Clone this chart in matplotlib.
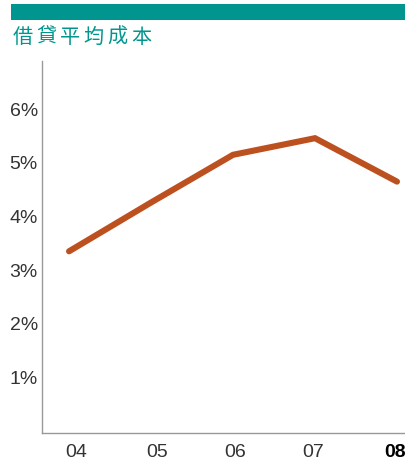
import matplotlib.pyplot as plt
from matplotlib.patches import Rectangle
from matplotlib.transforms import ScaledTranslation

years = ["04", "05", "06", "07", "08"]
avg_cost = [3.39, 4.3, 5.19, 5.5, 4.69]  # percent
y_ticks = [1, 2, 3, 4, 5, 6]
title = "借貸平均成本"

TEAL = "#00968F"
LINE = "#BD501F"
W, H = 406, 477

fig = plt.figure(figsize=(W / 100, H / 100), dpi=100)

# ----- top band + title -----
fig.patches.append(Rectangle((11 / W, 1 - 21 / H), 1 - 11 / W, 16 / H,
                             transform=fig.transFigure, color=TEAL, lw=0))
for i, ch in enumerate(title):
    fig.text((13 + i * 23.6) / W, 1 - 37.5 / H, ch, color=TEAL, fontsize=14.5,
             family=["Noto Sans CJK TC", "DejaVu Sans"], va="center", ha="left")

# ----- line chart -----
ax = fig.add_axes([42 / W, 1 - 434 / H, 1 - 42 / W, (434 - 62) / H])
x = list(range(len(years)))
ax.plot(x, avg_cost, color=LINE, lw=4.4, solid_capstyle="round", solid_joinstyle="miter")

ax.set_xlim(-0.33, 4.11)
ax.set_ylim(0, 6.94)
ax.set_yticks(y_ticks)
ax.set_yticklabels([f"{v}%" for v in y_ticks])
ax.set_xticks(x)
ax.set_xticklabels(years)
ax.tick_params(length=0, labelsize=14, labelcolor="#333333")
ax.tick_params(axis="y", pad=3)
ax.tick_params(axis="x", pad=7)
for lbl in ax.get_xticklabels() + ax.get_yticklabels():
    lbl.set_family("Liberation Sans")

# year labels sit slightly off the data points in the original
x_shift_px = [7, 6, 2, -2, -2]
for lbl, dx in zip(ax.get_xticklabels(), x_shift_px):
    lbl.set_transform(lbl.get_transform() + ScaledTranslation(dx / 100, 0, fig.dpi_scale_trans))
for lbl in ax.get_yticklabels():
    lbl.set_transform(lbl.get_transform() + ScaledTranslation(0, 3 / 100, fig.dpi_scale_trans))

last = ax.get_xticklabels()[-1]
last.set_fontweight("bold")
last.set_color("black")

for s in ["top", "right"]:
    ax.spines[s].set_visible(False)
for s in ["left", "bottom"]:
    ax.spines[s].set_color("#999999")
    ax.spines[s].set_linewidth(1.0)

fig.savefig("out.png", dpi=100)
